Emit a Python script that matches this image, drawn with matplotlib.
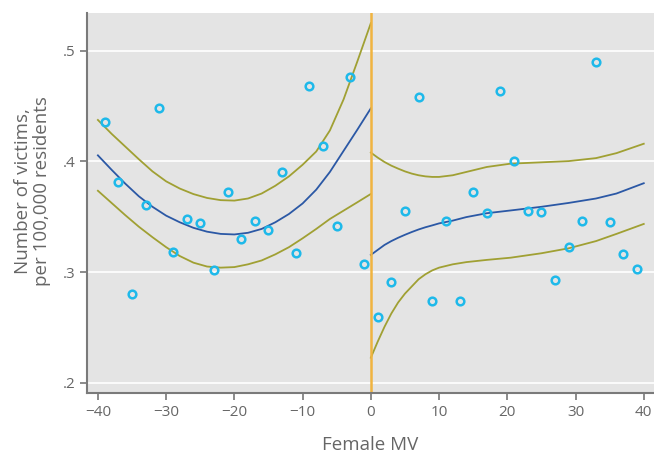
import numpy as np
import matplotlib
matplotlib.use('Agg')
import matplotlib.pyplot as plt
from matplotlib.ticker import FuncFormatter

plt.rcParams['font.family'] = ['Open Sans', 'DejaVu Sans']

# binned means (Female MV vs victims per 100,000)
bin_x = [-39, -37, -35, -33, -31, -29, -27, -25, -23, -21,
         -19, -17, -15, -13, -11, -9, -7, -5, -3, -1,
         1, 3, 5, 7, 9, 11, 13, 15, 17, 19,
         21, 23, 25, 27, 29, 31, 33, 35, 37, 39]
bin_y = [0.436, 0.381, 0.280, 0.361, 0.448, 0.318, 0.348, 0.344, 0.302, 0.372,
         0.330, 0.346, 0.338, 0.390, 0.317, 0.468, 0.414, 0.342, 0.476, 0.307,
         0.259, 0.291, 0.3555, 0.458, 0.274, 0.346, 0.274, 0.372, 0.353, 0.464,
         0.400, 0.3555, 0.354, 0.293, 0.323, 0.3465, 0.490, 0.3456, 0.3166, 0.303]

# fitted line and confidence band, left of cutoff
left_x = [-40, -38, -36, -34, -32, -30, -28, -26, -24, -22, -20,
          -18, -16, -14, -12, -10, -8, -6, -4, -2, 0]
left_fit = [0.4055, 0.3925, 0.380, 0.3685, 0.359, 0.351, 0.345, 0.340, 0.3365, 0.3345, 0.334,
            0.3355, 0.339, 0.345, 0.3525, 0.362, 0.3745, 0.3905, 0.4095, 0.4285, 0.448]
left_hi = [0.4375, 0.425, 0.4135, 0.402, 0.391, 0.382, 0.3755, 0.3705, 0.367, 0.365, 0.3646,
           0.3665, 0.371, 0.378, 0.3865, 0.397, 0.409, 0.428, 0.456, 0.490, 0.525]
left_lo = [0.3735, 0.3625, 0.3515, 0.341, 0.3315, 0.3225, 0.3145, 0.3085, 0.305, 0.304, 0.3045,
           0.307, 0.3105, 0.316, 0.3225, 0.3305, 0.339, 0.348, 0.3555, 0.363, 0.3706]

# right of cutoff
right_x = [0, 1, 2, 3, 4, 5, 6, 7, 8, 9, 10, 12, 14, 17, 20.5, 25, 29, 33, 36, 40]
right_fit = [0.3155, 0.320, 0.3245, 0.328, 0.331, 0.3337, 0.3362, 0.3385, 0.3405, 0.3422, 0.344,
             0.3465, 0.3497, 0.3532, 0.3557, 0.359, 0.3625, 0.3665, 0.371, 0.3803]
right_hi = [0.408, 0.4035, 0.3995, 0.3962, 0.3935, 0.391, 0.389, 0.3875, 0.3865, 0.386, 0.386,
            0.3875, 0.3905, 0.395, 0.398, 0.3992, 0.4003, 0.403, 0.4075, 0.416]
right_lo = [0.2226, 0.237, 0.2505, 0.2625, 0.2725, 0.2805, 0.287, 0.2935, 0.298, 0.3015, 0.304,
            0.307, 0.309, 0.311, 0.313, 0.317, 0.3215, 0.328, 0.3345, 0.3435]

fig = plt.figure(figsize=(6.54, 4.54), dpi=100)
ax = fig.add_axes([0.133, 0.1344, 0.867, 0.838])
ax.set_facecolor('#e4e4e4')

ax.set_yticks([0.2, 0.3, 0.4, 0.5])
ax.yaxis.grid(True, color='white', linewidth=1.2)
ax.set_axisbelow(True)

band = '#a0a033'
fitc = '#2b58a5'
for xs, f, hi, lo in [(left_x, left_fit, left_hi, left_lo),
                      (right_x, right_fit, right_hi, right_lo)]:
    ax.plot(xs, hi, color=band, lw=1.3)
    ax.plot(xs, lo, color=band, lw=1.3)
    ax.plot(xs, f, color=fitc, lw=1.3)

ax.axvline(0, color='#f0b440', lw=1.8)

ax.plot(bin_x, bin_y, 'o', ms=5.5, mfc='none', mec='#1eb9ea', mew=1.8, zorder=5)

ax.set_xlim(-41.6, 41.5)
ax.set_ylim(0.1907, 0.5346)
ax.set_xticks(range(-40, 41, 10))
ax.yaxis.set_major_formatter(FuncFormatter(lambda v, p: ('%.1f' % v).lstrip('0')))

for s in ['top', 'right']:
    ax.spines[s].set_visible(False)
for s in ['left', 'bottom']:
    ax.spines[s].set_color('#7a7a7a')
    ax.spines[s].set_linewidth(1.5)
ax.tick_params(colors='#777777', labelsize=11, length=5, width=1.2, labelcolor='#666666')

ax.set_xlabel('Female MV', fontsize=13.5, color='#666666')
ax.xaxis.set_label_coords(0.5, -0.113)
ax.set_ylabel('Number of victims,\nper 100,000 residents', fontsize=13.5, color='#666666',
              linespacing=1.05)
ax.yaxis.set_label_coords(-0.064, 0.53)

fig.savefig('out.png', dpi=100)
